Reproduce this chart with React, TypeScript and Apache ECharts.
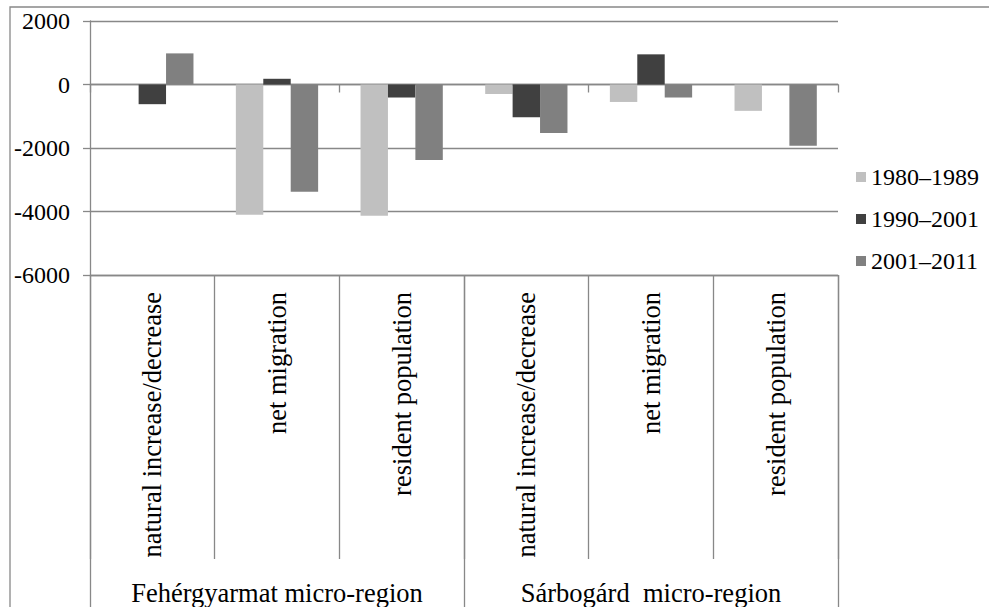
import React, { useEffect, useRef } from "react";
import * as echarts from "echarts";

const categories = [
  "natural increase/decrease",
  "net migration",
  "resident population",
  "natural increase/decrease",
  "net migration",
  "resident population",
];
const groups = ["Fehérgyarmat micro-region", "Sárbogárd  micro-region"];
const seriesNames = ["1980–1989", "1990–2001", "2001–2011"];
const s1980 = [0, -4100, -4130, -300, -550, -830];
const s1990 = [-620, 180, -410, -1030, 950, 0];
const s2001 = [980, -3380, -2380, -1530, -410, -1930];
const yTicks = { min: -6000, max: 2000, interval: 2000 };

const FONT = "Liberation Serif";
const GRAY = "#888888";

export default function App() {
  const ref = useRef<HTMLDivElement>(null);
  useEffect(() => {
    if (!ref.current) return;
    const chart = echarts.init(ref.current, null, { renderer: "svg" });
    const colors = ["#c0c0c0", "#404040", "#808080"];
    const values = [s1980, s1990, s2001];
    chart.setOption({
      animation: false,
      textStyle: { fontFamily: FONT, color: "#000" },
      graphic: [
        {
          type: "rect",
          shape: { x: 10, y: 7, width: 1000, height: 620 },
          style: { fill: "none", stroke: GRAY, lineWidth: 1.3 },
          silent: true,
        },
      ],
      grid: { left: 90, top: 21, right: 151, bottom: 332, containLabel: false },
      legend: {
        orient: "vertical",
        left: 851,
        top: 160,
        itemWidth: 10,
        itemHeight: 10,
        itemGap: 18,
        icon: "rect",
        data: seriesNames,
        textStyle: { fontFamily: FONT, fontSize: 24, color: "#000" },
      },
      xAxis: [
        {
          type: "category",
          data: categories,
          position: "bottom",
          axisLine: { show: true, onZero: false, lineStyle: { color: GRAY, width: 1.3 } },
          axisTick: { show: true, length: 284, lineStyle: { color: GRAY, width: 1.3 } },
          axisLabel: {
            interval: 0,
            rotate: 90,
            margin: 17,
            fontSize: 26.5,
            fontFamily: FONT,
            color: "#000",
          },
          splitLine: { show: false },
        },
        {
          type: "category",
          data: groups,
          position: "bottom",
          axisLine: { show: false, onZero: false },
          axisTick: { show: true, length: 340, lineStyle: { color: GRAY, width: 1.3 } },
          axisLabel: {
            interval: 0,
            margin: 304,
            fontSize: 26.5,
            fontFamily: FONT,
            color: "#000",
          },
          splitLine: { show: false },
        },
        {
          type: "category",
          data: categories,
          position: "bottom",
          axisLine: { show: true, onZero: true, lineStyle: { color: GRAY, width: 1.3 } },
          axisTick: { show: true, length: 8, lineStyle: { color: GRAY, width: 1.3 } },
          axisLabel: { show: false },
          splitLine: { show: false },
        },
      ],
      yAxis: {
        type: "value",
        min: yTicks.min,
        max: yTicks.max,
        interval: yTicks.interval,
        axisLine: { show: true, lineStyle: { color: GRAY, width: 1.3 } },
        axisTick: { show: true, length: 7, lineStyle: { color: GRAY, width: 1.3 } },
        axisLabel: {
          margin: 20,
          fontSize: 24,
          fontFamily: FONT,
          color: "#000",
          formatter: (v: number) => String(v),
        },
        splitLine: { show: true, lineStyle: { color: GRAY, width: 1.3 } },
      },
      series: seriesNames.map((name, i) => ({
        name,
        type: "bar",
        xAxisIndex: 0,
        yAxisIndex: 0,
        data: values[i],
        barGap: "0%",
        barCategoryGap: "34%",
        itemStyle: { color: colors[i] },
      })),
    });
    return () => chart.dispose();
  }, []);
  return (
    <div
      ref={ref}
      style={{ position: "fixed", left: 0, top: 0, width: 989, height: 607, background: "#fff" }}
    />
  );
}
